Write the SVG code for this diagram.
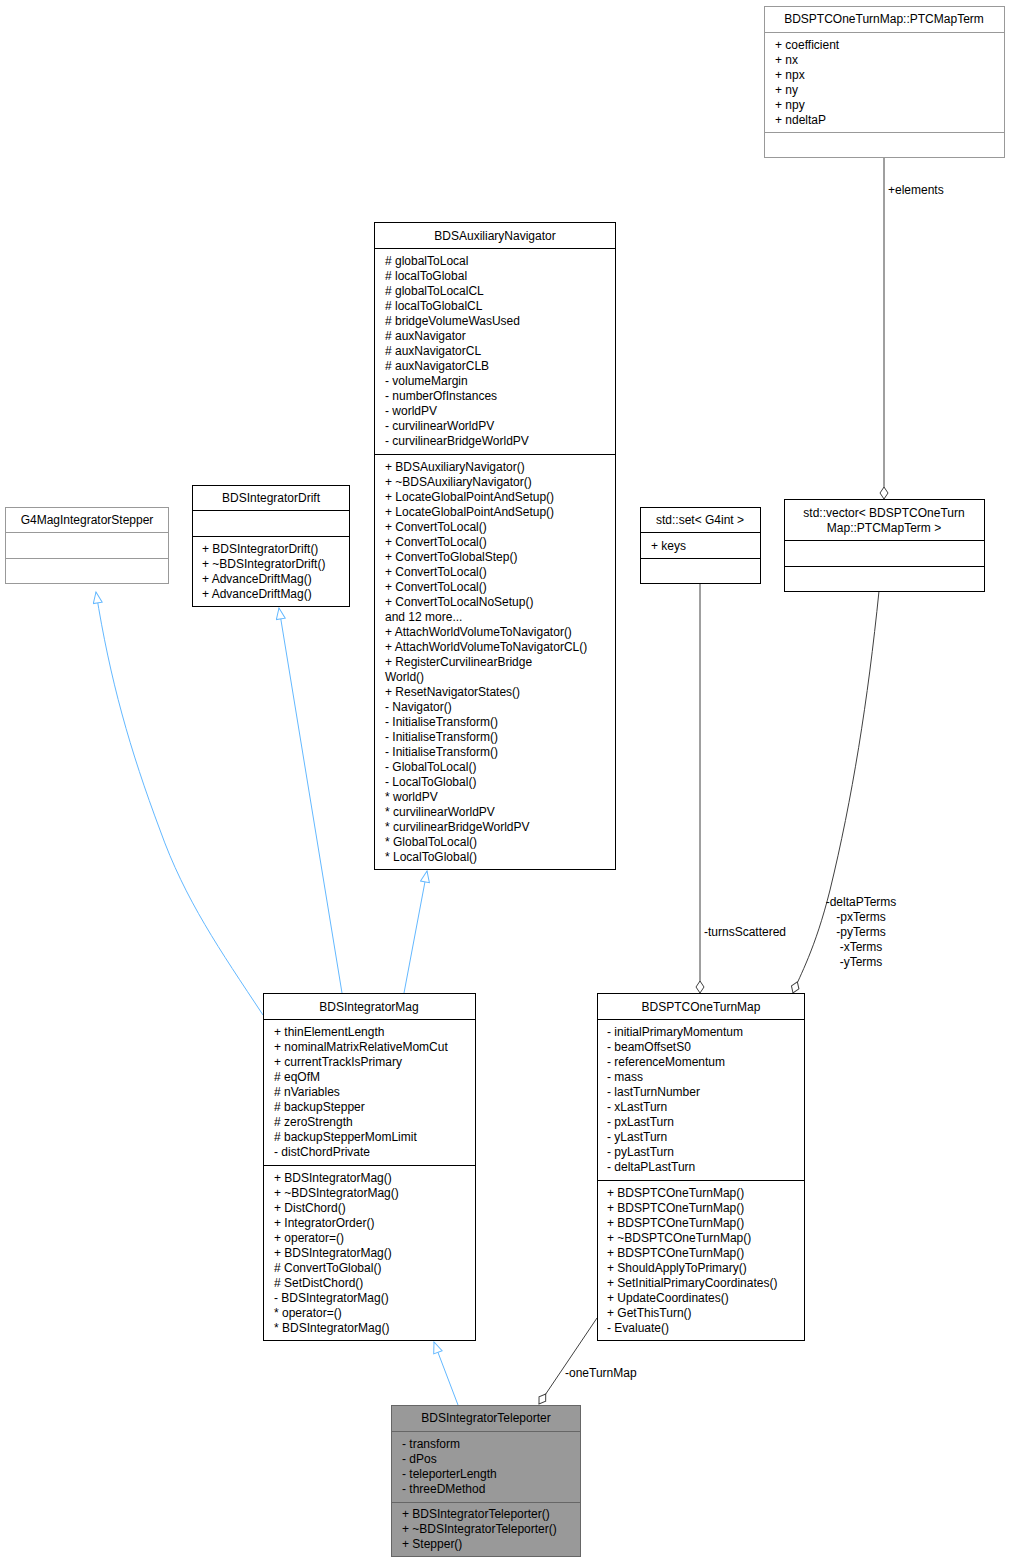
<svg xmlns="http://www.w3.org/2000/svg" width="1010" height="1563" viewBox="0 0 1010 1563">
<style>
text{font-family:"Liberation Sans",Arial,sans-serif;font-size:12px;fill:#000}
.t{text-anchor:middle}
.box{fill:#fff;stroke:#000;stroke-width:1}
.gbox{fill:#fff;stroke:#999;stroke-width:1}
.sep{stroke:#000;stroke-width:1}
.gsep{stroke:#999;stroke-width:1}
.inh{fill:none;stroke:#63b8ff;stroke-width:1}
.agg{fill:none;stroke:#404040;stroke-width:1}
</style>
<defs>
<marker id="tri" markerWidth="14" markerHeight="12" refX="12" refY="5" orient="auto" markerUnits="userSpaceOnUse"><path d="M1,0.5 L12,5 L1,9.5 z" fill="#fff" stroke="#63b8ff"/></marker>
<marker id="dia" markerWidth="14" markerHeight="10" refX="13" refY="5" orient="auto" markerUnits="userSpaceOnUse"><path d="M1,5 L7,1 L13,5 L7,9 z" fill="#fff" stroke="#404040"/></marker>
</defs>
<rect width="1010" height="1563" fill="#fff"/>
<g id="connectors">
<path class="inh" d="M263,1015 C220,950 185,900 160,830 C130,750 110,680 96,592" marker-end="url(#tri)"/>
<path class="inh" d="M342,993 L279,608" marker-end="url(#tri)"/>
<path class="inh" d="M404,993 L427,871" marker-end="url(#tri)"/>
<path class="inh" d="M458,1405 L434,1342" marker-end="url(#tri)"/>
<path class="agg" d="M597,1318 L539,1404" marker-end="url(#dia)"/>
<text x="565" y="1377">-oneTurnMap</text>
<path class="agg" d="M700,583 L700,993" marker-end="url(#dia)"/>
<text x="704" y="936">-turnsScattered</text>
<path class="agg" d="M879,591 C868,700 852,800 830,890 C815,950 800,975 793,993" marker-end="url(#dia)"/>
<text x="861" y="906" class="t">-deltaPTerms</text>
<text x="861" y="921" class="t">-pxTerms</text>
<text x="861" y="936" class="t">-pyTerms</text>
<text x="861" y="951" class="t">-xTerms</text>
<text x="861" y="966" class="t">-yTerms</text>
<path class="agg" d="M884,157 L884,499" marker-end="url(#dia)"/>
<text x="888" y="194">+elements</text>
</g>
<g id="PTCMapTerm">
<rect class="gbox" x="764.5" y="6.5" width="240" height="151"/>
<text x="884" y="23" class="t">BDSPTCOneTurnMap::PTCMapTerm</text>
<line class="gsep" x1="764.5" y1="32.5" x2="1004.5" y2="32.5"/>
<text x="775" y="49">+ coefficient</text><text x="775" y="64">+ nx</text><text x="775" y="79">+ npx</text><text x="775" y="94">+ ny</text><text x="775" y="109">+ npy</text><text x="775" y="124">+ ndeltaP</text>
<line class="gsep" x1="764.5" y1="132.5" x2="1004.5" y2="132.5"/>
</g>
<g id="BDSAuxiliaryNavigator">
<rect class="box" x="374.5" y="222.5" width="241" height="647"/>
<text x="495" y="240" class="t">BDSAuxiliaryNavigator</text>
<line class="sep" x1="374.5" y1="248.5" x2="615.5" y2="248.5"/>
<text x="385" y="265">
<tspan x="385" dy="0"># globalToLocal</tspan><tspan x="385" dy="15"># localToGlobal</tspan><tspan x="385" dy="15"># globalToLocalCL</tspan><tspan x="385" dy="15"># localToGlobalCL</tspan><tspan x="385" dy="15"># bridgeVolumeWasUsed</tspan><tspan x="385" dy="15"># auxNavigator</tspan><tspan x="385" dy="15"># auxNavigatorCL</tspan><tspan x="385" dy="15"># auxNavigatorCLB</tspan><tspan x="385" dy="15">- volumeMargin</tspan><tspan x="385" dy="15">- numberOfInstances</tspan><tspan x="385" dy="15">- worldPV</tspan><tspan x="385" dy="15">- curvilinearWorldPV</tspan><tspan x="385" dy="15">- curvilinearBridgeWorldPV</tspan>
</text>
<line class="sep" x1="374.5" y1="454.5" x2="615.5" y2="454.5"/>
<text x="385" y="471">
<tspan x="385" dy="0">+ BDSAuxiliaryNavigator()</tspan><tspan x="385" dy="15">+ ~BDSAuxiliaryNavigator()</tspan><tspan x="385" dy="15">+ LocateGlobalPointAndSetup()</tspan><tspan x="385" dy="15">+ LocateGlobalPointAndSetup()</tspan><tspan x="385" dy="15">+ ConvertToLocal()</tspan><tspan x="385" dy="15">+ ConvertToLocal()</tspan><tspan x="385" dy="15">+ ConvertToGlobalStep()</tspan><tspan x="385" dy="15">+ ConvertToLocal()</tspan><tspan x="385" dy="15">+ ConvertToLocal()</tspan><tspan x="385" dy="15">+ ConvertToLocalNoSetup()</tspan><tspan x="385" dy="15">and 12 more...</tspan><tspan x="385" dy="15">+ AttachWorldVolumeToNavigator()</tspan><tspan x="385" dy="15">+ AttachWorldVolumeToNavigatorCL()</tspan><tspan x="385" dy="15">+ RegisterCurvilinearBridge</tspan><tspan x="385" dy="15">World()</tspan><tspan x="385" dy="15">+ ResetNavigatorStates()</tspan><tspan x="385" dy="15">- Navigator()</tspan><tspan x="385" dy="15">- InitialiseTransform()</tspan><tspan x="385" dy="15">- InitialiseTransform()</tspan><tspan x="385" dy="15">- InitialiseTransform()</tspan><tspan x="385" dy="15">- GlobalToLocal()</tspan><tspan x="385" dy="15">- LocalToGlobal()</tspan><tspan x="385" dy="15">* worldPV</tspan><tspan x="385" dy="15">* curvilinearWorldPV</tspan><tspan x="385" dy="15">* curvilinearBridgeWorldPV</tspan><tspan x="385" dy="15">* GlobalToLocal()</tspan><tspan x="385" dy="15">* LocalToGlobal()</tspan>
</text>
</g>
<g id="BDSIntegratorDrift">
<rect class="box" x="192.5" y="485.5" width="157" height="121"/>
<text x="271" y="502" class="t">BDSIntegratorDrift</text>
<line class="sep" x1="192.5" y1="510.5" x2="349.5" y2="510.5"/>
<line class="sep" x1="192.5" y1="536.5" x2="349.5" y2="536.5"/>
<text x="202" y="553"><tspan x="202" dy="0">+ BDSIntegratorDrift()</tspan><tspan x="202" dy="15">+ ~BDSIntegratorDrift()</tspan><tspan x="202" dy="15">+ AdvanceDriftMag()</tspan><tspan x="202" dy="15">+ AdvanceDriftMag()</tspan></text>
</g>
<g id="G4MagIntegratorStepper">
<rect class="gbox" x="5.5" y="507.5" width="163" height="76"/>
<text x="87" y="524" class="t">G4MagIntegratorStepper</text>
<line class="gsep" x1="5.5" y1="532.5" x2="168.5" y2="532.5"/>
<line class="gsep" x1="5.5" y1="558.5" x2="168.5" y2="558.5"/>
</g>
<g id="stdset">
<rect class="box" x="640.5" y="507.5" width="120" height="76"/>
<text x="700" y="524" class="t">std::set&lt; G4int &gt;</text>
<line class="sep" x1="640.5" y1="532.5" x2="760.5" y2="532.5"/>
<text x="651" y="550">+ keys</text>
<line class="sep" x1="640.5" y1="558.5" x2="760.5" y2="558.5"/>
</g>
<g id="stdvector">
<rect class="box" x="784.5" y="499.5" width="200" height="92"/>
<text x="884" y="517" class="t">std::vector&lt; BDSPTCOneTurn</text>
<text x="884" y="532" class="t">Map::PTCMapTerm &gt;</text>
<line class="sep" x1="784.5" y1="540.5" x2="984.5" y2="540.5"/>
<line class="sep" x1="784.5" y1="566.5" x2="984.5" y2="566.5"/>
</g>
<g id="BDSIntegratorMag">
<rect class="box" x="263.5" y="993.5" width="212" height="347"/>
<text x="369" y="1011" class="t">BDSIntegratorMag</text>
<line class="sep" x1="263.5" y1="1019.5" x2="475.5" y2="1019.5"/>
<text x="274" y="1036"><tspan x="274" dy="0">+ thinElementLength</tspan><tspan x="274" dy="15">+ nominalMatrixRelativeMomCut</tspan><tspan x="274" dy="15">+ currentTrackIsPrimary</tspan><tspan x="274" dy="15"># eqOfM</tspan><tspan x="274" dy="15"># nVariables</tspan><tspan x="274" dy="15"># backupStepper</tspan><tspan x="274" dy="15"># zeroStrength</tspan><tspan x="274" dy="15"># backupStepperMomLimit</tspan><tspan x="274" dy="15">- distChordPrivate</tspan></text>
<line class="sep" x1="263.5" y1="1165.5" x2="475.5" y2="1165.5"/>
<text x="274" y="1182"><tspan x="274" dy="0">+ BDSIntegratorMag()</tspan><tspan x="274" dy="15">+ ~BDSIntegratorMag()</tspan><tspan x="274" dy="15">+ DistChord()</tspan><tspan x="274" dy="15">+ IntegratorOrder()</tspan><tspan x="274" dy="15">+ operator=()</tspan><tspan x="274" dy="15">+ BDSIntegratorMag()</tspan><tspan x="274" dy="15"># ConvertToGlobal()</tspan><tspan x="274" dy="15"># SetDistChord()</tspan><tspan x="274" dy="15">- BDSIntegratorMag()</tspan><tspan x="274" dy="15">* operator=()</tspan><tspan x="274" dy="15">* BDSIntegratorMag()</tspan></text>
</g>
<g id="BDSPTCOneTurnMap">
<rect class="box" x="597.5" y="993.5" width="207" height="347"/>
<text x="701" y="1011" class="t">BDSPTCOneTurnMap</text>
<line class="sep" x1="597.5" y1="1019.5" x2="804.5" y2="1019.5"/>
<text x="607" y="1036"><tspan x="607" dy="0">- initialPrimaryMomentum</tspan><tspan x="607" dy="15">- beamOffsetS0</tspan><tspan x="607" dy="15">- referenceMomentum</tspan><tspan x="607" dy="15">- mass</tspan><tspan x="607" dy="15">- lastTurnNumber</tspan><tspan x="607" dy="15">- xLastTurn</tspan><tspan x="607" dy="15">- pxLastTurn</tspan><tspan x="607" dy="15">- yLastTurn</tspan><tspan x="607" dy="15">- pyLastTurn</tspan><tspan x="607" dy="15">- deltaPLastTurn</tspan></text>
<line class="sep" x1="597.5" y1="1180.5" x2="804.5" y2="1180.5"/>
<text x="607" y="1197"><tspan x="607" dy="0">+ BDSPTCOneTurnMap()</tspan><tspan x="607" dy="15">+ BDSPTCOneTurnMap()</tspan><tspan x="607" dy="15">+ BDSPTCOneTurnMap()</tspan><tspan x="607" dy="15">+ ~BDSPTCOneTurnMap()</tspan><tspan x="607" dy="15">+ BDSPTCOneTurnMap()</tspan><tspan x="607" dy="15">+ ShouldApplyToPrimary()</tspan><tspan x="607" dy="15">+ SetInitialPrimaryCoordinates()</tspan><tspan x="607" dy="15">+ UpdateCoordinates()</tspan><tspan x="607" dy="15">+ GetThisTurn()</tspan><tspan x="607" dy="15">- Evaluate()</tspan></text>
</g>
<g id="BDSIntegratorTeleporter">
<rect x="391.5" y="1405.5" width="189" height="151" fill="#999" stroke="#666"/>
<text x="486" y="1422" class="t">BDSIntegratorTeleporter</text>
<line x1="391.5" y1="1431.5" x2="580.5" y2="1431.5" stroke="#666"/>
<text x="402" y="1448"><tspan x="402" dy="0">- transform</tspan><tspan x="402" dy="15">- dPos</tspan><tspan x="402" dy="15">- teleporterLength</tspan><tspan x="402" dy="15">- threeDMethod</tspan></text>
<line x1="391.5" y1="1502.5" x2="580.5" y2="1502.5" stroke="#666"/>
<text x="402" y="1518"><tspan x="402" dy="0">+ BDSIntegratorTeleporter()</tspan><tspan x="402" dy="15">+ ~BDSIntegratorTeleporter()</tspan><tspan x="402" dy="15">+ Stepper()</tspan></text>
</g>
</svg>
